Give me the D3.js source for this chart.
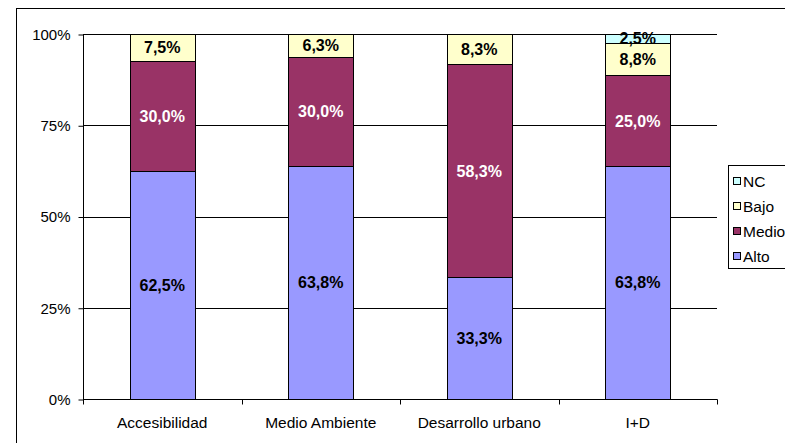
<!DOCTYPE html>
<html>
<head>
<meta charset="utf-8">
<script src="https://cdn.jsdelivr.net/npm/d3@7/dist/d3.min.js"></script>
<style>
html,body{margin:0;padding:0;background:#fff;overflow:hidden;}
svg{display:block;}
svg text{font-family:"Liberation Sans",Arial,sans-serif;}
</style>
</head>
<body>
<svg id="chart" width="785" height="443"></svg>
<script>
const categories = ["Accesibilidad", "Medio Ambiente", "Desarrollo urbano", "I+D"];
const seriesNames = ["Alto", "Medio", "Bajo", "NC"];
const alto  = [62.5, 63.8, 33.3, 63.8];
const medio = [30.0, 30.0, 58.3, 25.0];
const bajo  = [7.5, 6.3, 8.3, 8.8];
const nc    = [0, 0, 0, 2.5];
const yTicks = [0, 25, 50, 75, 100];
const yTickLabels = ["0%", "25%", "50%", "75%", "100%"];
const colors = {Alto: "#9999FF", Medio: "#993366", Bajo: "#FFFFCC", NC: "#CCFFFF"};
const labelColors = {Alto: "#000", Medio: "#fff", Bajo: "#000", NC: "#000"};

const rows = categories.map((c, i) => ({cat: c, Alto: alto[i], Medio: medio[i], Bajo: bajo[i], NC: nc[i]}));

const FONT = "'Liberation Sans', Arial, sans-serif";
const FS = 15;
const svg = d3.select("#chart");
const L = 83, R = 717, T = 34, B = 399;

// outer chart border
svg.append("rect").attr("x", 16.5).attr("y", 8.5).attr("width", 800).attr("height", 500)
  .attr("fill", "none").attr("stroke", "#000").attr("stroke-width", 1);

const x = d3.scaleBand().domain(categories).range([L, R]).paddingInner(0.59).paddingOuter(0.295);
const xb = d3.scaleBand().domain(categories).range([L, R]).padding(0);
const y = d3.scaleLinear().domain([0, 100]).range([B, T]);

// gridlines
svg.append("g").selectAll("line").data(yTicks.filter(d => d > 0)).join("line")
  .attr("x1", L).attr("x2", R)
  .attr("y1", d => Math.round(y(d)) + 0.5).attr("y2", d => Math.round(y(d)) + 0.5)
  .attr("stroke", "#000").attr("stroke-width", 1);

// y axis
const yAxis = d3.axisLeft(y).tickValues(yTicks).tickSize(5).tickPadding(8)
  .tickFormat((d, i) => yTickLabels[i]);
const gy = svg.append("g").attr("transform", `translate(${L + 0.5},0.5)`).call(yAxis)
  .attr("font-family", FONT).attr("font-size", FS);
gy.select(".domain").attr("d", `M0,${T}V${B}`).attr("stroke", "#000");
gy.selectAll(".tick line").attr("stroke", "#000");
gy.selectAll(".tick text").attr("font-size", FS).attr("fill", "#000").attr("font-family", FONT);

// stacked bars
const stack = d3.stack().keys(seriesNames).offset(d3.stackOffsetExpand);
const stacked = stack(rows);
const yp = d3.scaleLinear().domain([0, 1]).range([B, T]);

const gBars = svg.append("g");
stacked.forEach(s => {
  gBars.append("g").selectAll("rect").data(s.filter(d => d[1] - d[0] > 0)).join("rect")
    .attr("x", d => Math.round(x(d.data.cat)) + 0.5)
    .attr("width", Math.round(x.bandwidth()))
    .attr("y", d => Math.round(yp(d[1])) + 0.5)
    .attr("height", d => Math.round(yp(d[0])) - Math.round(yp(d[1])))
    .attr("fill", colors[s.key]).attr("stroke", "#000").attr("stroke-width", 1);
});

// x axis
const gx = svg.append("g").attr("transform", `translate(0,${B + 0.5})`);
gx.append("line").attr("x1", L).attr("x2", R + 0.5).attr("stroke", "#000");
const boundaries = categories.map(c => xb(c)).concat([R]);
gx.selectAll(".bt").data(boundaries).join("line").attr("class", "bt")
  .attr("x1", d => Math.round(d) + 0.5).attr("x2", d => Math.round(d) + 0.5)
  .attr("y1", 0).attr("y2", 5).attr("stroke", "#000");
gx.selectAll(".lbl").data(categories).join("text").attr("class", "lbl")
  .attr("x", d => xb(d) + xb.bandwidth() / 2).attr("y", 28)
  .attr("text-anchor", "middle").attr("font-size", FS + 0.5).attr("font-family", FONT).attr("fill", "#000")
  .text(d => d);

// data labels
const fmt = v => v.toFixed(1).replace(".", ",") + "%";
const gLab = svg.append("g");
stacked.forEach(s => {
  const idx = seriesNames.indexOf(s.key);
  const vals = [alto, medio, bajo, nc][idx];
  gLab.append("g").selectAll("text").data(s.map((d, i) => ({d, v: vals[i]})).filter(o => o.v > 0)).join("text")
    .attr("x", o => x(o.d.data.cat) + x.bandwidth() / 2)
    .attr("y", o => (yp(o.d[0]) + yp(o.d[1])) / 2)
    .attr("dy", "0.36em")
    .attr("text-anchor", "middle").attr("font-size", FS + 1).attr("font-weight", "bold")
    .attr("font-family", FONT)
    .attr("fill", labelColors[s.key])
    .text(o => fmt(o.v));
});

// legend
const lg = svg.append("g");
lg.append("rect").attr("x", 728.5).attr("y", 165.5).attr("width", 80).attr("height", 103)
  .attr("fill", "#fff").attr("stroke", "#000");
const legendOrder = ["NC", "Bajo", "Medio", "Alto"];
const ly = d3.scalePoint().domain(legendOrder).range([181, 256]);
legendOrder.forEach(k => {
  lg.append("rect").attr("x", 733.5).attr("y", Math.round(ly(k)) - 3.5).attr("width", 7).attr("height", 7)
    .attr("fill", colors[k]).attr("stroke", "#000");
  lg.append("text").attr("x", 743).attr("y", ly(k)).attr("dy", "0.36em")
    .attr("font-size", FS + 0.5).attr("font-family", FONT).attr("fill", "#000").text(k);
});
</script>
</body>
</html>
